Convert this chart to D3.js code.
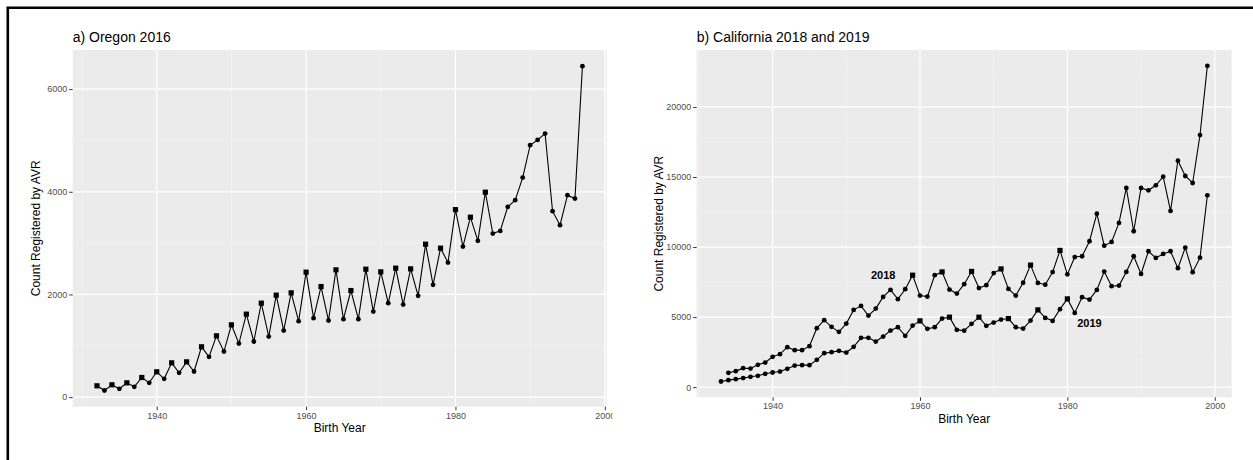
<!DOCTYPE html>
<html>
<head>
<meta charset="utf-8">
<script src="https://cdn.jsdelivr.net/npm/d3@7"></script>
<style>
  body { margin: 0; background: #fff; }
  svg text { font-family: "Liberation Sans", Arial, sans-serif; }
</style>
</head>
<body>
<script>
// ===== Data =====

// a) Oregon 2016
const oregonYears = [1932,1933,1934,1935,1936,1937,1938,1939,1940,1941,1942,1943,1944,1945,1946,1947,1948,1949,
  1950,1951,1952,1953,1954,1955,1956,1957,1958,1959,1960,1961,1962,1963,1964,1965,1966,1967,1968,1969,
  1970,1971,1972,1973,1974,1975,1976,1977,1978,1979,1980,1981,1982,1983,1984,1985,1986,1987,1988,1989,
  1990,1991,1992,1993,1994,1995,1996,1997];
const oregonCounts = [220,129,240,162,278,200,382,278,493,356,668,473,687,499,980,785,1194,888,
  1408,1044,1616,1083,1830,1180,1986,1297,2031,1480,2434,1538,2154,1492,2479,1519,2076,1519,2492,1667,
  2440,1830,2512,1803,2498,1973,2979,2187,2901,2621,3653,2933,3505,3044,3992,3186,3238,3706,3836,4277,
  4907,5011,5134,3622,3349,3934,3868,6446];
const oregonSquareYears = [1932,1934,1936,1938,1940,1942,1944,1946,1948,1950,1952,1954,1956,1958,
  1960,1962,1964,1966,1968,1970,1972,1974,1976,1978,1980,1982,1984];

// b) California 2018 and 2019
const ca2018Years = [1934,1935,1936,1937,1938,1939,1940,1941,1942,1943,1944,1945,1946,1947,1948,1949,
  1950,1951,1952,1953,1954,1955,1956,1957,1958,1959,1960,1961,1962,1963,1964,1965,1966,1967,1968,1969,
  1970,1971,1972,1973,1974,1975,1976,1977,1978,1979,1980,1981,1982,1983,1984,1985,1986,1987,1988,1989,
  1990,1991,1992,1993,1994,1995,1996,1997,1998,1999];
const ca2018Counts = [1020,1141,1355,1327,1591,1755,2161,2354,2853,2639,2639,2924,4208,4779,4301,3945,
  4537,5514,5799,5107,5607,6441,6941,6277,6990,7989,6534,6463,7989,8224,6962,6677,7347,8260,7070,7276,
  8140,8438,7012,6534,7450,8710,7440,7310,8214,9760,8050,9284,9344,10414,12383,10100,10364,11719,14216,11127,
  14216,14052,14409,15022,12576,16163,15072,14573,17997,22940];
const ca2018SquareYears = [1959,1963,1967,1971,1975,1979];

const ca2019Years = [1933,1934,1935,1936,1937,1938,1939,1940,1941,1942,1943,1944,1945,1946,1947,1948,1949,
  1950,1951,1952,1953,1954,1955,1956,1957,1958,1959,1960,1961,1962,1963,1964,1965,1966,1967,1968,1969,
  1970,1971,1972,1973,1974,1975,1976,1977,1978,1979,1980,1981,1982,1983,1984,1985,1986,1987,1988,1989,
  1990,1991,1992,1993,1994,1995,1996,1997,1998,1999];
const ca2019Counts = [400,499,570,642,735,806,949,1044,1113,1305,1540,1569,1569,1947,2425,2497,2589,
  2468,2875,3517,3517,3253,3609,4037,4280,3659,4394,4729,4158,4280,4893,4993,4087,4030,4515,4993,4373,
  4608,4822,4893,4280,4180,4751,5514,4943,4729,5564,6298,5300,6420,6249,6941,8246,7205,7247,8224,9344,
  8082,9701,9223,9508,9701,8488,9958,8203,9244,13695];
const ca2019SquareYears = [1960,1964,1968,1972,1976,1980];

// Tick values
const xTicks = [1940, 1960, 1980, 2000];
const xMinor = [1930, 1950, 1970, 1990];
const oregonYTicks = [0, 2000, 4000, 6000];
const oregonYMinor = [1000, 3000, 5000];
const caYTicks = [0, 5000, 10000, 15000, 20000];
const caYMinor = [2500, 7500, 12500, 17500, 22500];

// Series labels
const caLabels = [{text: "2018", year: 1955, value: 8010}, {text: "2019", year: 1983, value: 4565}];

// ===== Drawing =====
const W = 1253, H = 460;
const svg = d3.select("body").append("svg")
    .attr("width", W)
    .attr("height", H);

svg.append("rect").attr("width", W).attr("height", H).attr("fill", "#fff");

// the left image is cropped just right of its last tick label
svg.append("clipPath").attr("id", "clipA")
    .append("rect").attr("x", 0).attr("y", 0).attr("width", 612.5).attr("height", H);

// outer frame (only top and left edges show in the picture)
svg.append("path")
    .attr("d", `M7.8,${H} V7.8 H${W}`)
    .attr("fill", "none")
    .attr("stroke", "#000")
    .attr("stroke-width", 2.6);

// ggplot style expansion: 5% of the data range on each side
function expand(ext) {
    const pad = (ext[1] - ext[0]) * 0.05;
    return [ext[0] - pad, ext[1] + pad];
}

function drawPanel(p) {
    const x = d3.scaleLinear().domain(expand(p.xExtent)).range([p.left, p.right]);
    const y = d3.scaleLinear().domain(expand(p.yExtent)).range([p.bottom, p.top]);
    const g = svg.append("g");
    if (p.clip) g.attr("clip-path", `url(#${p.clip})`);

    // Panel background
    g.append("rect")
        .attr("x", p.left).attr("y", p.top)
        .attr("width", p.right - p.left).attr("height", p.bottom - p.top)
        .attr("fill", "#ebebeb");

    // Minor grid
    g.selectAll(".xmin").data(p.xMinor.filter(v => x(v) >= p.left && x(v) <= p.right)).enter().append("line")
        .attr("x1", d => x(d)).attr("x2", d => x(d))
        .attr("y1", p.top).attr("y2", p.bottom)
        .attr("stroke", "#f7f7f7").attr("stroke-width", 0.6);
    g.selectAll(".ymin").data(p.yMinor.filter(v => y(v) >= p.top && y(v) <= p.bottom)).enter().append("line")
        .attr("x1", p.left).attr("x2", p.right)
        .attr("y1", d => y(d)).attr("y2", d => y(d))
        .attr("stroke", "#f7f7f7").attr("stroke-width", 0.6);

    // Major grid
    g.selectAll(".xmaj").data(p.xTicks.filter(v => x(v) >= p.left && x(v) <= p.right)).enter().append("line")
        .attr("x1", d => x(d)).attr("x2", d => x(d))
        .attr("y1", p.top).attr("y2", p.bottom)
        .attr("stroke", "#fff").attr("stroke-width", 1.2);
    g.selectAll(".ymaj").data(p.yTicks).enter().append("line")
        .attr("x1", p.left).attr("x2", p.right)
        .attr("y1", d => y(d)).attr("y2", d => y(d))
        .attr("stroke", "#fff").attr("stroke-width", 1.2);

    // Axes
    const xAxis = d3.axisBottom(x).tickValues(p.xTicks).tickFormat(d3.format("d"))
        .tickSize(3.5).tickPadding(2);
    const xg = g.append("g").attr("transform", `translate(0,${p.bottom})`).call(xAxis);
    const yAxis = d3.axisLeft(y).tickValues(p.yTicks).tickFormat(d3.format("d"))
        .tickSize(3.5).tickPadding(2);
    const yg = g.append("g").attr("transform", `translate(${p.left},0)`).call(yAxis);
    [xg, yg].forEach(ax => {
        ax.select(".domain").remove();
        ax.selectAll(".tick line").attr("stroke", "#333").attr("stroke-width", 1);
        ax.selectAll(".tick text").attr("fill", "#4d4d4d")
            .style("font-size", "9px")
            .style("font-family", '"Liberation Sans", Arial, sans-serif');
    });

    // Series
    const line = d3.line().x(d => x(d.year)).y(d => y(d.value));
    p.series.forEach(s => {
        const pts = s.years.map((yr, i) => ({year: yr, value: s.counts[i], square: s.squares.includes(yr)}));
        g.append("path").datum(pts)
            .attr("d", line)
            .attr("fill", "none")
            .attr("stroke", "#000")
            .attr("stroke-width", 1.1);
        g.selectAll(null).data(pts.filter(d => !d.square)).enter().append("circle")
            .attr("cx", d => x(d.year)).attr("cy", d => y(d.value))
            .attr("r", 2.4).attr("fill", "#000");
        g.selectAll(null).data(pts.filter(d => d.square)).enter().append("rect")
            .attr("x", d => x(d.year) - 2.6).attr("y", d => y(d.value) - 2.6)
            .attr("width", 5.2).attr("height", 5.2).attr("fill", "#000");
    });

    // Series labels
    if (p.labels) {
        g.selectAll(null).data(p.labels).enter().append("text")
            .attr("x", d => x(d.year)).attr("y", d => y(d.value))
            .attr("dy", "0.35em")
            .attr("text-anchor", "middle")
            .style("font-size", "11px")
            .style("font-weight", "bold")
            .attr("fill", "#000")
            .text(d => d.text);
    }

    // Titles
    g.append("text")
        .attr("x", p.left).attr("y", p.top - 8)
        .style("font-size", "14px")
        .attr("fill", "#000")
        .text(p.title);
    g.append("text")
        .attr("x", (p.left + p.right) / 2).attr("y", p.bottom + 25.5)
        .attr("text-anchor", "middle")
        .style("font-size", "12px")
        .attr("fill", "#000")
        .text("Birth Year");
    g.append("text")
        .attr("transform", `translate(${p.left - p.yTitleOffset},${(p.top + p.bottom) / 2}) rotate(-90)`)
        .attr("text-anchor", "middle")
        .style("font-size", "12px")
        .attr("fill", "#000")
        .text("Count Registered by AVR");
}

drawPanel({
    title: "a) Oregon 2016",
    left: 72.7, right: 606.7, top: 50, bottom: 406.7,
    clip: "clipA",
    xExtent: d3.extent(oregonYears),
    yExtent: d3.extent(oregonCounts),
    xTicks: xTicks, xMinor: xMinor,
    yTicks: oregonYTicks, yMinor: oregonYMinor,
    yTitleOffset: 32.5,
    series: [{years: oregonYears, counts: oregonCounts, squares: oregonSquareYears}]
});

drawPanel({
    title: "b) California 2018 and 2019",
    left: 696.7, right: 1231.7, top: 50, bottom: 397.3,
    xExtent: d3.extent(ca2019Years.concat(ca2018Years)),
    yExtent: d3.extent(ca2018Counts.concat(ca2019Counts)),
    xTicks: xTicks, xMinor: xMinor,
    yTicks: caYTicks, yMinor: caYMinor,
    yTitleOffset: 33.5,
    labels: caLabels,
    series: [
        {years: ca2018Years, counts: ca2018Counts, squares: ca2018SquareYears},
        {years: ca2019Years, counts: ca2019Counts, squares: ca2019SquareYears}
    ]
});
</script>
</body>
</html>
